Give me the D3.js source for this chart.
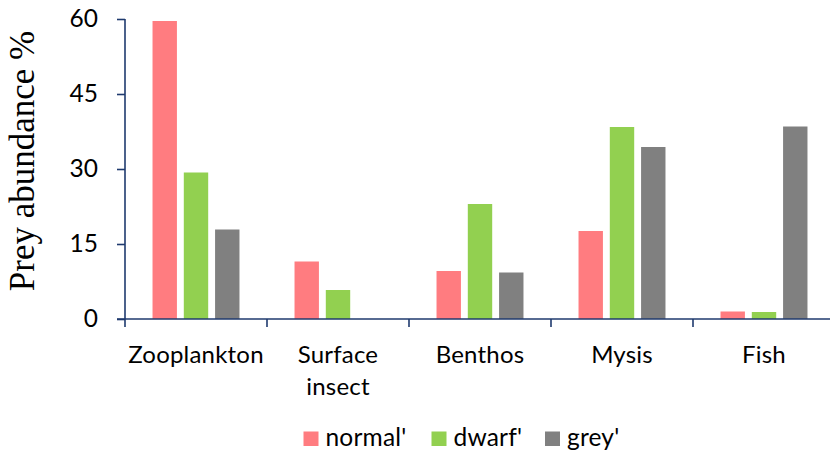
<!DOCTYPE html>
<html>
<head>
<meta charset="utf-8">
<script src="https://cdn.jsdelivr.net/npm/d3@7"></script>
<style>
  html, body { margin: 0; padding: 0; background: #fff; }
  svg { display: block; }
</style>
</head>
<body>
<svg id="chart" width="830" height="457"></svg>
<script>
// Prey categories and diet composition (%) of each morph
const categories = ["Zooplankton", "Surface\ninsect", "Benthos", "Mysis", "Fish"];
const seriesNames = ["normal'", "dwarf'", "grey'"];
const normalValues = [59.6, 11.5, 9.6, 17.6, 1.5];
const dwarfValues  = [29.3, 5.8, 23.0, 38.4, 1.4];
const greyValues   = [17.9, 0, 9.3, 34.4, 38.5];
const yTicks = [0, 15, 30, 45, 60];
const colors = ["#FF7C80", "#92D050", "#808080"];

const seriesValues = [normalValues, dwarfValues, greyValues];
const rows = categories.map((c, i) => ({
  category: c,
  values: seriesNames.map((s, k) => ({ series: s, value: seriesValues[k][i], k }))
}));

const svg = d3.select("#chart");
const axisColor = "#1F3A6E";
const labelFont = "Lato, 'Open Sans', sans-serif";

const x0 = d3.scaleBand().domain(categories).range([125, 835]).padding(0);
const x1 = d3.scaleBand().domain(seriesNames).range([0, x0.bandwidth()])
  .paddingInner(0.22).paddingOuter(0.88);
const y = d3.scaleLinear().domain([0, 60]).range([319, 19]);

// Bars
const groups = svg.append("g").selectAll("g")
  .data(rows).join("g")
  .attr("transform", d => `translate(${x0(d.category)},0)`);
groups.selectAll("rect")
  .data(d => d.values.filter(v => v.value > 0))
  .join("rect")
  .attr("x", v => x1(v.series))
  .attr("width", x1.bandwidth())
  .attr("y", v => y(v.value))
  .attr("height", v => y(0) - y(v.value))
  .attr("fill", v => colors[v.k]);

// Y axis
const yAxis = svg.append("g").attr("transform", "translate(125,0)")
  .call(d3.axisLeft(y).tickValues(yTicks).tickSize(8).tickPadding(19).tickFormat(d3.format("d")));
yAxis.select(".domain").attr("stroke", axisColor).attr("stroke-width", 1.6)
  .attr("d", `M0,${y(60)}V${y(0)}`);
yAxis.selectAll(".tick line").attr("stroke", axisColor).attr("stroke-width", 1.6);
yAxis.selectAll(".tick text").attr("fill", "#000")
  .style("font-family", labelFont).style("font-size", "24.5px");

// X axis with boundaries between categories
const xAxisG = svg.append("g");
xAxisG.append("line")
  .attr("x1", 117).attr("x2", 830).attr("y1", y(0)).attr("y2", y(0))
  .attr("stroke", axisColor).attr("stroke-width", 1.6);
const boundaries = categories.map(c => x0(c));
xAxisG.selectAll("line.tk").data(boundaries).join("line")
  .attr("class", "tk")
  .attr("x1", d => d).attr("x2", d => d)
  .attr("y1", y(0)).attr("y2", y(0) + 8)
  .attr("stroke", axisColor).attr("stroke-width", 1.6);

// Category labels (multi-line)
const catLabels = svg.append("g").selectAll("text")
  .data(categories).join("text")
  .attr("x", d => x0(d) + x0.bandwidth() / 2)
  .attr("y", 362.5)
  .attr("text-anchor", "middle")
  .style("font-family", labelFont).style("font-size", "24px")
  .style("letter-spacing", "0.2px").attr("fill", "#000");
catLabels.each(function(d) {
  const t = d3.select(this);
  d.split("\n").forEach((line, i) => {
    t.append("tspan").attr("x", x0(d) + x0.bandwidth() / 2)
      .attr("dy", i === 0 ? 0 : 32).text(line);
  });
});

// Y-axis title
svg.append("text")
  .attr("transform", "translate(34,161) rotate(-90)")
  .attr("text-anchor", "middle")
  .style("font-family", "'Liberation Serif', 'Times New Roman', serif")
  .style("font-size", "35px")
  .attr("fill", "#000")
  .text("Prey abundance %");

// Legend
const legendX = [303.5, 431.5, 545];
const legend = svg.append("g").selectAll("g")
  .data(seriesNames).join("g")
  .attr("transform", (d, i) => `translate(${legendX[i]},431.5)`);
legend.append("rect").attr("width", 15).attr("height", 14.5)
  .attr("fill", (d, i) => colors[i]);
legend.append("text").attr("x", 22).attr("y", 14.5)
  .style("font-family", labelFont).style("font-size", "24.5px")
  .style("letter-spacing", "0.2px").attr("fill", "#000")
  .text(d => d);
</script>
</body>
</html>
